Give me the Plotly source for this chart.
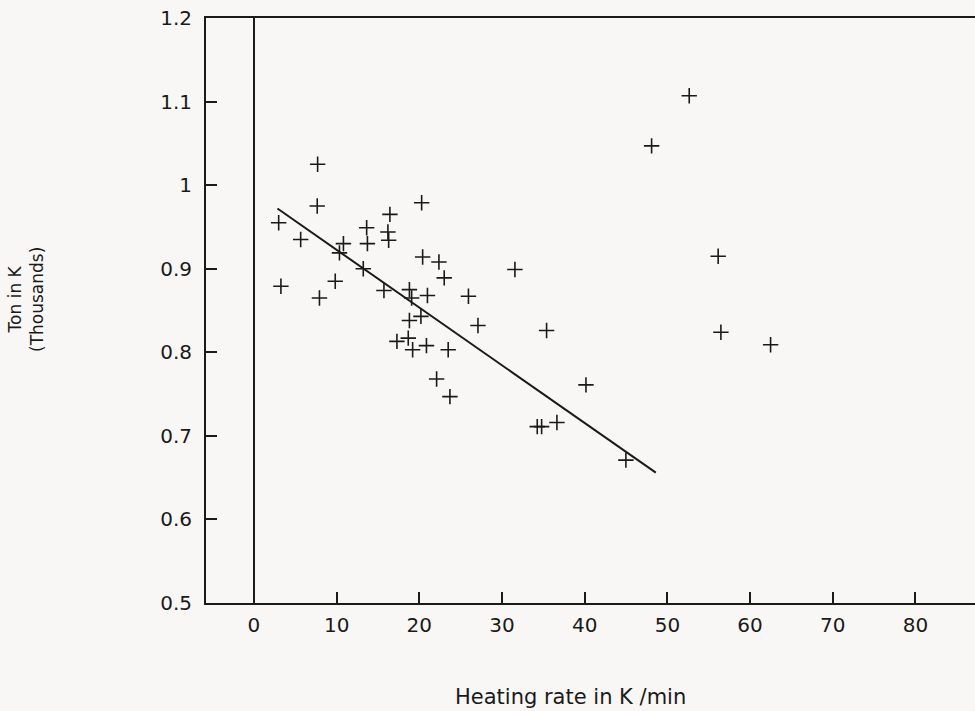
import plotly.graph_objects as go

# Heating rate (K/min) and Ton (thousands of K)
heating_rate = [7.70, 7.65, 2.99, 5.65, 3.26, 7.92, 9.83, 10.82, 10.34, 13.63,
                13.72, 13.22, 16.44, 16.20, 16.29, 15.72, 20.28, 20.40, 22.37, 23.01,
                18.80, 19.07, 20.98, 25.94, 31.56, 18.80, 20.19, 27.09, 35.39, 17.29,
                18.66, 19.19, 20.86, 23.49, 22.09, 23.70, 34.26, 34.79, 36.64, 40.15,
                44.98, 48.09, 52.64, 56.14, 56.47, 62.48]
ton_k = [1.025, 0.975, 0.955, 0.935, 0.879, 0.865, 0.885, 0.930, 0.919, 0.949,
         0.930, 0.900, 0.965, 0.944, 0.934, 0.874, 0.979, 0.914, 0.908, 0.889,
         0.875, 0.865, 0.868, 0.867, 0.899, 0.838, 0.843, 0.832, 0.826, 0.813,
         0.817, 0.803, 0.808, 0.803, 0.768, 0.747, 0.711, 0.711, 0.716, 0.761,
         0.671, 1.047, 1.107, 0.915, 0.824, 0.809]

# Fitted regression line end points
fit_x = [2.84, 48.6]
fit_y = [0.972, 0.656]

x_ticks = [0, 10, 20, 30, 40, 50, 60, 70, 80, 90]
y_ticks = [0.5, 0.6, 0.7, 0.8, 0.9, 1.0, 1.1, 1.2]
y_tick_text = ["0.5", "0.6", "0.7", "0.8", "0.9", "1", "1.1", "1.2"]

ink = "#1a1a1a"
font = "DejaVu Sans"

fig = go.Figure()
fig.add_trace(go.Scatter(
    x=fit_x, y=fit_y, mode="lines",
    line=dict(color=ink, width=2), showlegend=False, hoverinfo="skip"))
fig.add_trace(go.Scatter(
    x=heating_rate, y=ton_k, mode="markers",
    marker=dict(symbol="cross-thin", size=11, line=dict(width=1.6, color=ink)),
    showlegend=False))

fig.update_layout(
    width=975, height=711,
    margin=dict(l=206, r=0, t=18, b=108),
    paper_bgcolor="#f8f7f5", plot_bgcolor="#f8f7f5",
    font=dict(family=font, color=ink, size=20),
    xaxis=dict(
        range=[-5.8, 87.2], tickmode="array", tickvals=x_ticks,
        ticks="inside", ticklen=11, tickwidth=1.5, tickcolor=ink,
        showline=True, linecolor=ink, linewidth=2, mirror=True,
        showgrid=False, zeroline=True, zerolinecolor=ink, zerolinewidth=2,
        tickfont=dict(size=20, family=font, color=ink),
        ticklabelstandoff=3,
    ),
    yaxis=dict(
        range=[0.5, 1.2], tickmode="array", tickvals=y_ticks, ticktext=y_tick_text,
        ticks="inside", ticklen=11, tickwidth=1.5, tickcolor=ink,
        showline=True, linecolor=ink, linewidth=2, mirror=False,
        showgrid=False, zeroline=False,
        tickfont=dict(size=20, family=font, color=ink),
        ticklabelstandoff=8,
    ),
    annotations=[
        dict(text="Heating rate in K /min", xref="paper", yref="paper",
             x=(570 - 206) / 769, y=(602.7 - 697) / 584.4,
             xanchor="center", yanchor="middle", showarrow=False,
             font=dict(size=21, family=font, color=ink)),
        dict(text="Ton in K<br>(Thousands)", xref="paper", yref="paper",
             x=(26 - 206) / 769, y=(602.7 - 300) / 584.4,
             xanchor="center", yanchor="middle", showarrow=False, textangle=-90,
             font=dict(size=17, family=font, color=ink)),
    ],
)

fig.write_html("out.html")
